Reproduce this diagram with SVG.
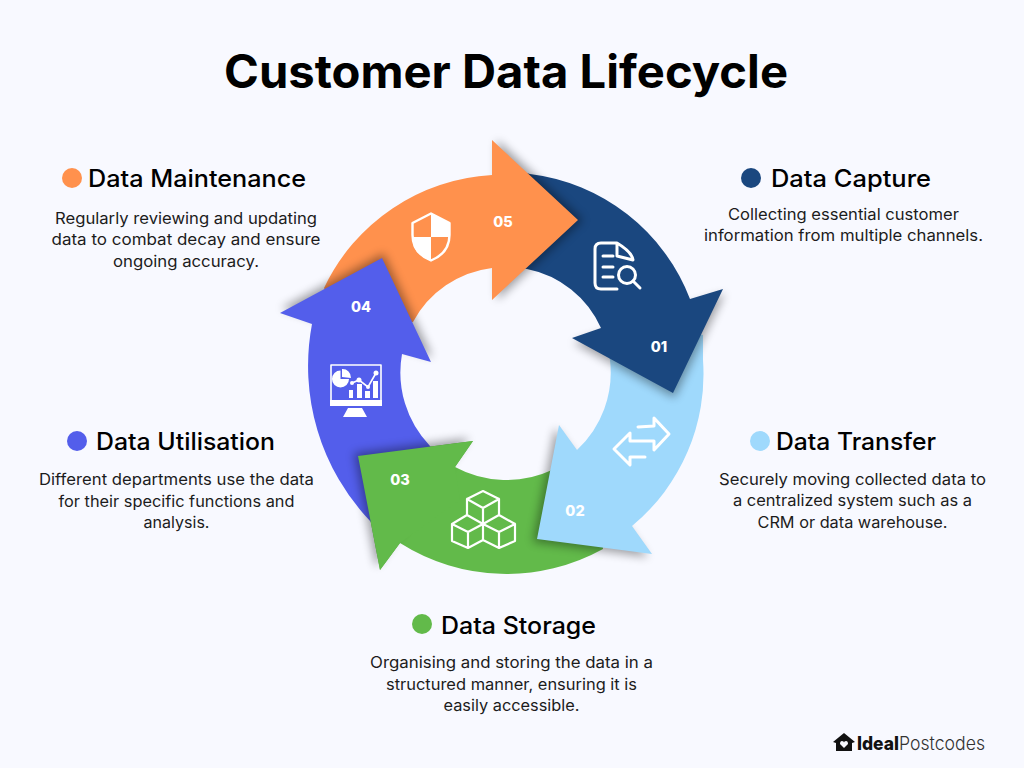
<svg xmlns="http://www.w3.org/2000/svg" width="1024" height="768" viewBox="0 0 1024 768">
<defs>
<filter id="blur" x="-30%" y="-30%" width="160%" height="160%"><feGaussianBlur stdDeviation="5"/></filter>
<style>
text{font-family:"Inter","Open Sans","Liberation Sans",sans-serif}
.title{font-size:46px;font-weight:700;fill:#000}
.head{font-size:24px;font-weight:500;fill:#000}
.body{font-size:15.5px;font-weight:400;fill:#1c1c1c;text-anchor:middle}
.num{font-size:14.5px;font-weight:800;fill:#fff;text-anchor:middle}
.sh{fill:#000;opacity:.36;filter:url(#blur)}
.ic{fill:none;stroke:#fff;stroke-width:2.2;stroke-linejoin:round;stroke-linecap:round}
.icb{fill:none;stroke:#fff;stroke-width:3;stroke-linejoin:round;stroke-linecap:round}
.wf{fill:#fff}
.orange{fill:#ff914d}.navy{fill:#1a477f}.sky{fill:#9fd9fc}.green{fill:#62ba4a}.blue{fill:#535eeb}
</style>
</defs>
<rect width="1024" height="768" fill="#f8f9ff"/>
<text class="title" x="224" y="88" textLength="564" lengthAdjust="spacingAndGlyphs">Customer Data Lifecycle</text>

<g id="connectors"></g>

<g id="node-green-body">
<path class="green" d="M473 441L455 467A108 108 0 0 0 552 470L600 500L603 549A199 199 0 0 1 400 543L380 570L358 456Z"/>
</g>

<g id="node-02">
<polygon class="sh" points="559,425 652,554 537,539" transform="translate(-4,3)"/>
<path class="sky" d="M640 320L703 335L703 360A197 197 0 0 1 632 526L652 554L537 539L559 425L577 450A106 106 0 0 0 610 360L600 320Z"/>
<path class="icb" d="M638 427L654 426L654 418L669 434L654 450L654 441L630 441M630 433L614 449L630 465L630 457L645 457M630 433L630 441"/>
<text class="num" x="575" y="516">02</text>
</g>

<g id="node-01">
<polygon class="sh" points="723,289 572,338 673,393" transform="translate(1.5,4.8)"/>
<path class="navy" d="M500 165L530 174A197 197 0 0 1 690 299L723 289L673 393L572 338L601 328A103 103 0 0 0 527 269L500 265Z"/>
<path class="icb" d="M617 243L601 243Q595 243 595 249L595 283Q595 289 601 289L617 289M617 243L617 256L633 260Q632 252 617 243ZM603 256L613 256M603 267L613 267M603 277L613 277"/>
<circle class="icb" cx="627" cy="275" r="8.5"/>
<path class="icb" d="M633 281L640 288"/>
<text class="num" x="659" y="352">01</text>
</g>

<g id="node-05">
<polygon class="sh" points="492,140 578,220 492,300" transform="translate(5,0)"/>
<path class="orange" d="M492 140L578 220L492 300L492 268A104 104 0 0 0 413 322L400 325L340 320L324 288A198 198 0 0 1 492 175Z"/>
<path class="wf" d="M431 213L450 223L450 237L431 237ZM431 237L412 237L414 247Q418 256 431 261Z"/>
<path d="M431 213.500L412.500 223V235Q412.500 253 431 260.500Q449.500 253 449.500 235V223Z" fill="none" stroke="#fff" stroke-width="2.4" stroke-linejoin="round"/>
<text class="num" x="503" y="227">05</text>
</g>

<g id="node-04">
<polygon class="sh" points="382,258 431,362 280,313" transform="translate(1.500,-4.800)"/>
<path class="blue" d="M382 258L431 362L402 354A106 106 0 0 0 430 446L440 462L400 510L371 522A225 225 0 0 1 312 324L280 313Z"/>
<path d="M331 365H381V405H331Z" fill="none" stroke="#fff" stroke-width="1.600" stroke-linejoin="round"/>
<path class="wf" d="M330 400H382V406H330ZM348 408H362L367 417H343Z"/>
<path class="wf" d="M342 377V369A8.500 8.500 0 0 1 351 378ZM340.500 370.500V379H349A8.500 8.500 0 1 1 340.500 370.500ZM349 390H353V398H349ZM357 384H362V398H357ZM365 391H370V398H365ZM373 381H378V398H373Z"/>
<path d="M352 383L359 380L368 387L376 373" fill="none" stroke="#fff" stroke-width="1.600"/>
<circle class="wf" cx="352" cy="383" r="2"/><circle class="wf" cx="359" cy="380" r="2.500"/><circle class="wf" cx="368" cy="387" r="2"/><circle class="wf" cx="376" cy="373" r="2.500"/>
<text class="num" x="361" y="312">04</text>
</g>

<g id="node-03">
<polygon class="sh" points="473,441 358,456 380,570" transform="translate(-4,-3)"/>
<polygon class="green" points="473,441 358,456 380,570 400,543 460,500 455,467"/>
<path class="ic" d="M483 491L467 499L467 515L452 524L452 541L468 548L483 540L499 548L515 541L515 524L499 515L499 499ZM467 499L483 508L499 499M483 508L483 540M467 515L483 524L499 515M452 524L468 532L483 524M468 532L468 548M483 524L499 532L515 524M499 532L499 548"/>
<text class="num" x="400" y="485">03</text>
</g>

<g id="label-capture">
<circle class="navy" cx="751" cy="178" r="10"/>
<text class="head" x="771" y="187" textLength="160" lengthAdjust="spacingAndGlyphs">Data Capture</text>
<text class="body" x="843.500" y="220" textLength="231" lengthAdjust="spacingAndGlyphs">Collecting essential customer</text>
<text class="body" x="843.500" y="241" textLength="279" lengthAdjust="spacingAndGlyphs">information from multiple channels.</text>
</g>
<g id="label-transfer">
<circle class="sky" cx="760" cy="441" r="10"/>
<text class="head" x="776" y="450" textLength="160" lengthAdjust="spacingAndGlyphs">Data Transfer</text>
<text class="body" x="852.500" y="485" textLength="267" lengthAdjust="spacingAndGlyphs">Securely moving collected data to</text>
<text class="body" x="852.500" y="506" textLength="239" lengthAdjust="spacingAndGlyphs">a centralized system such as a</text>
<text class="body" x="852.500" y="528" textLength="190" lengthAdjust="spacingAndGlyphs">CRM or data warehouse.</text>
</g>
<g id="label-storage">
<circle class="green" cx="422" cy="624" r="10"/>
<text class="head" x="441" y="634" textLength="155" lengthAdjust="spacingAndGlyphs">Data Storage</text>
<text class="body" x="511.500" y="668" textLength="283" lengthAdjust="spacingAndGlyphs">Organising and storing the data in a</text>
<text class="body" x="511.500" y="690" textLength="251" lengthAdjust="spacingAndGlyphs">structured manner, ensuring it is</text>
<text class="body" x="511.500" y="711" textLength="136" lengthAdjust="spacingAndGlyphs">easily accessible.</text>
</g>
<g id="label-utilisation">
<circle class="blue" cx="77" cy="441" r="10"/>
<text class="head" x="96" y="450" textLength="179" lengthAdjust="spacingAndGlyphs">Data Utilisation</text>
<text class="body" x="176.500" y="485" textLength="275" lengthAdjust="spacingAndGlyphs">Different departments use the data</text>
<text class="body" x="176.500" y="507" textLength="236" lengthAdjust="spacingAndGlyphs">for their specific functions and</text>
<text class="body" x="176.500" y="528" textLength="66" lengthAdjust="spacingAndGlyphs">analysis.</text>
</g>
<g id="label-maintenance">
<circle class="orange" cx="72" cy="178" r="10"/>
<text class="head" x="88" y="187" textLength="218" lengthAdjust="spacingAndGlyphs">Data Maintenance</text>
<text class="body" x="186" y="224" textLength="262" lengthAdjust="spacingAndGlyphs">Regularly reviewing and updating</text>
<text class="body" x="186" y="245" textLength="269" lengthAdjust="spacingAndGlyphs">data to combat decay and ensure</text>
<text class="body" x="186" y="267" textLength="146" lengthAdjust="spacingAndGlyphs">ongoing accuracy.</text>
</g>
<g id="logo">
<path d="M844 733L833 742L836 743V751H852V743L855 742Z" fill="#111"/>
<path d="M844 748L840 744Q840 741 842 741Q844 741 844 742.500Q844 741 846 741Q848 741 848 744Z" fill="#f8f9ff"/>
<text x="857" y="750" font-size="18.500" font-weight="800" fill="#111" textLength="42" lengthAdjust="spacingAndGlyphs">Ideal</text>
<text x="899" y="750" font-size="18.500" font-weight="300" fill="#333" textLength="86" lengthAdjust="spacingAndGlyphs">Postcodes</text>
</g>
</svg>
